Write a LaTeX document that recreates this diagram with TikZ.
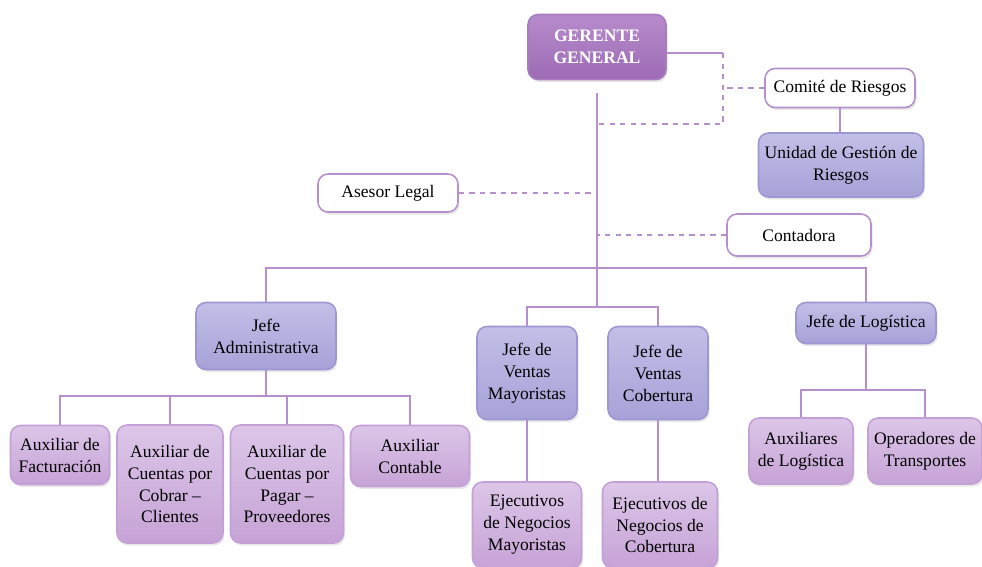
\documentclass[tikz,border=0pt]{standalone}
\usepackage{fontspec}
\setmainfont{Liberation Serif}
\usetikzlibrary{positioning,shadows}
\definecolor{Linea}{HTML}{B690CD}
\definecolor{GerTop}{HTML}{B68BCB}
\definecolor{GerBot}{HTML}{9D6BB4}
\definecolor{GerBorde}{HTML}{A77CC0}
\definecolor{JefeTop}{HTML}{C2BFE7}
\definecolor{JefeBot}{HTML}{A6A2D8}
\definecolor{JefeBorde}{HTML}{9D97D4}
\definecolor{AuxTop}{HTML}{DCC6E8}
\definecolor{AuxBot}{HTML}{C6A3D6}
\definecolor{AuxBorde}{HTML}{C4A0D7}
\tikzset{
  caja/.style={rounded corners=0.2cm,align=center,inner sep=2pt,line width=0.9pt,
    font=\fontsize{10}{12.5}\selectfont,
    drop shadow={opacity=0.18,shadow xshift=0.03cm,shadow yshift=-0.05cm}},
  gerente/.style={caja,top color=GerTop,bottom color=GerBot,draw=GerBorde,text=white,
    font=\fontsize{10}{12.5}\selectfont\bfseries},
  blanco/.style={caja,fill=white,draw=Linea},
  jefe/.style={caja,top color=JefeTop,bottom color=JefeBot,draw=JefeBorde},
  aux/.style={caja,top color=AuxTop,bottom color=AuxBot,draw=AuxBorde},
  linea/.style={Linea,line width=1pt},
  punteada/.style={linea,dashed}
}
\begin{document}
\begin{tikzpicture}[x=0.02cm,y=-0.02cm]
\useasboundingbox (0,0) rectangle (982,566);
% cabeza y staff
\node[gerente,minimum width=2.76cm,minimum height=1.3cm] (ger) at (597,47) {GERENTE\\GENERAL};
\node[blanco,minimum width=3.0cm,minimum height=0.78cm] (comite) at (840,88) {Comité de Riesgos};
\node[jefe,minimum width=3.3cm,minimum height=1.28cm] (unidad) at (841,165) {Unidad de Gestión de\\Riesgos};
\node[blanco,minimum width=2.8cm,minimum height=0.76cm] (asesor) at (388,193) {Asesor Legal};
\node[blanco,minimum width=2.88cm,minimum height=0.84cm] (contadora) at (799,235) {Contadora};
% jefaturas
\node[jefe,minimum width=2.8cm,minimum height=1.34cm] (jadm) at (266,336) {Jefe\\Administrativa};
\node[jefe,minimum width=2.0cm,minimum height=1.86cm] (jvm) at (527,373) {Jefe de\\Ventas\\Mayoristas};
\node[jefe,minimum width=2.0cm,minimum height=1.86cm] (jvc) at (658,373) {Jefe de\\Ventas\\Cobertura};
\node[jefe,minimum width=2.8cm,minimum height=0.82cm] (jlog) at (866,323) {Jefe de Logística};
% auxiliares
\node[aux,minimum width=1.98cm,minimum height=1.18cm] (a1) at (60,455) {Auxiliar de\\Facturación};
\node[aux,minimum width=2.12cm,minimum height=2.36cm] (a2) at (170,484) {Auxiliar de\\Cuentas por\\Cobrar –\\Clientes};
\node[aux,minimum width=2.26cm,minimum height=2.36cm] (a3) at (287,484) {Auxiliar de\\Cuentas por\\Pagar –\\Proveedores};
\node[aux,minimum width=2.38cm,minimum height=1.22cm] (a4) at (410,456) {Auxiliar\\Contable};
\node[aux,minimum width=2.18cm,minimum height=1.72cm] (e1) at (527,525) {Ejecutivos\\de Negocios\\Mayoristas};
\node[aux,minimum width=2.3cm,minimum height=1.72cm] (e2) at (660,525) {Ejecutivos de\\Negocios de\\Cobertura};
\node[aux,minimum width=2.08cm,minimum height=1.32cm] (l1) at (801,451) {Auxiliares\\de Logística};
\node[aux,minimum width=2.28cm,minimum height=1.32cm] (l2) at (925,451) {Operadores de\\Transportes};
% puntos de union
\coordinate (esq) at (723,53);
\coordinate (riesgo) at (597,124);
\coordinate (barra) at (597,268);
\coordinate (ventas) at (597,307);
\coordinate (adm) at (266,396);
\coordinate (log) at (866,390);
% conectores
\draw[linea] ([yshift=-0.26cm]ger.south) -- (ventas);
\draw[linea] ([yshift=-0.12cm]ger.east) -- (esq);
\draw[punteada] (esq) |- (riesgo);
\draw[punteada] (comite.west) -- (comite.west -| esq);
\draw[linea] (comite.south) -- (unidad.north -| comite.south);
\draw[punteada] (asesor.east) -- (asesor.east -| ventas);
\draw[punteada] (contadora.west) -- (contadora.west -| ventas);
\draw[linea] (jadm.north) |- (barra) -| (jlog.north);
\draw[linea] (jvm.north) |- (ventas) -| (jvc.north);
\draw[linea] (jadm.south) -- (adm);
\foreach \n in {a1,a2,a3,a4}
  \draw[linea] (adm) -| (\n.north);
\draw[linea] (jvm.south) -- (e1.north -| jvm.south);
\draw[linea] (jvc.south) -- (e2.north -| jvc.south);
\draw[linea] (jlog.south) -- (log);
\draw[linea] (log) -| (l1.north);
\draw[linea] (log) -| (l2.north);
\end{tikzpicture}
\end{document}
